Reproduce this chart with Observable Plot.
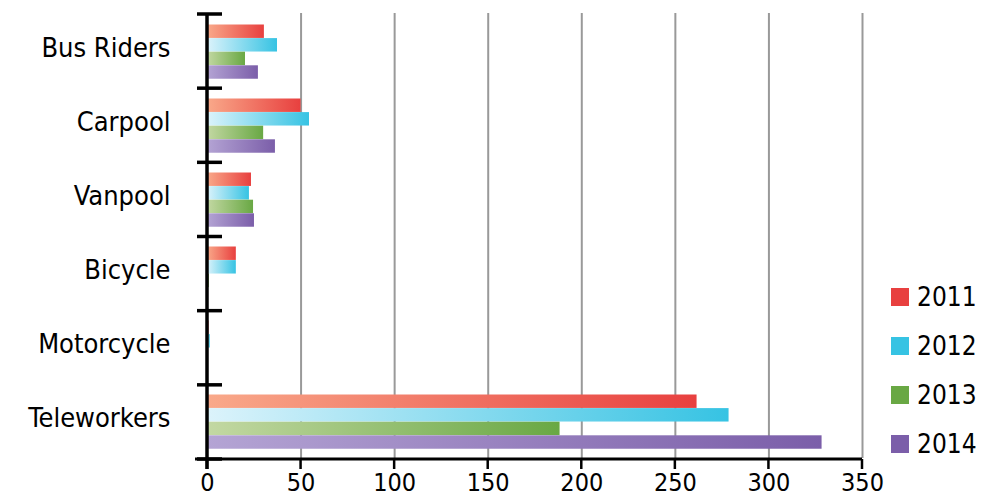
<!DOCTYPE html>
<html>
<head>
<meta charset="UTF-8">
<script src="https://cdn.jsdelivr.net/npm/d3@7"></script>
<script src="https://cdn.jsdelivr.net/npm/@observablehq/plot@0.6"></script>
<style>
  body { margin: 0; background: #fff; font-family: "DejaVu Sans", sans-serif; font-stretch: condensed; }
  #wrap { position: relative; width: 991px; height: 504px; }
  #legend { position: absolute; left: 891px; top: 272px; }
  .item { display: flex; align-items: center; height: 49px; font-size: 26px; }
  .sw { width: 18px; height: 18px; margin-right: 8px; }
</style>
</head>
<body>
<div id="wrap"><div id="chart"></div><div id="legend"></div></div>
<script>
const categories = ["Bus Riders", "Carpool", "Vanpool", "Bicycle", "Motorcycle", "Teleworkers"];
const years = ["2011", "2012", "2013", "2014"];
const v2011 = [30.4, 50, 23.5, 15.4, 0.8, 261.6];
const v2012 = [37.4, 54.5, 22.4, 15.4, 1.5, 278.7];
const v2013 = [20.3, 30, 24.6, 1, 0, 188.4];
const v2014 = [27.2, 36.3, 25.1, 0, 0, 328.4];
const xTicks = [0, 50, 100, 150, 200, 250, 300, 350];
const colors = ["#e8403f", "#36c3e3", "#69a844", "#7b5ea9"];
const lights = ["#f9a98a", "#dcf3fb", "#c3d8a3", "#b4a4d4"];

const series = [v2011, v2012, v2013, v2014];
const band = 445 / categories.length;
const pad = 10.5, h = 13.6;

const barMarks = series.map((vals, i) => Plot.barX(
  categories.map((c, j) => ({cat: c, v: vals[j]})),
  {x: "v", y: "cat", fill: `url(#g${i})`,
   insetTop: pad + i * h, insetBottom: band - pad - (i + 1) * h}
));

const chart = Plot.plot({
  width: 991, height: 504,
  marginLeft: 207, marginRight: 129, marginTop: 13, marginBottom: 46,
  style: {fontFamily: "DejaVu Sans", fontStretch: "condensed", overflow: "visible"},
  x: {domain: [0, 350], axis: null},
  y: {domain: categories, padding: 0, axis: null},
  marks: [
    Plot.ruleX(xTicks.slice(1), {stroke: "#999", strokeWidth: 2}),
    ...barMarks,
    Plot.text(xTicks, {x: d => d, frameAnchor: "bottom", dy: 32, text: d => String(d), fontSize: 25, fill: "#000"}),
    Plot.text(categories, {y: d => d, x: 0, dx: -37, dy: -3, textAnchor: "end", text: d => d, fontSize: 27, fill: "#000"})
  ]
});

const svg = d3.select(chart);
const defs = svg.insert("defs", ":first-child");
colors.forEach((c, i) => {
  const g = defs.append("linearGradient").attr("id", `g${i}`).attr("x1", 0).attr("x2", 1).attr("y1", 0).attr("y2", 0);
  g.append("stop").attr("offset", 0).attr("stop-color", lights[i]);
  g.append("stop").attr("offset", 1).attr("stop-color", c);
});

// axis lines and ticks
const xs = chart.scale("x"), ys = chart.scale("y");
const x0 = xs.apply(0), yTop = ys.apply(categories[0]), yBottom = yTop + band * categories.length;
const ax = svg.append("g").attr("stroke", "#000");
ax.append("line").attr("x1", x0).attr("x2", x0).attr("y1", yTop).attr("y2", yBottom + 10).attr("stroke-width", 3.5);
ax.append("line").attr("x1", x0 - 12).attr("x2", xs.apply(350)).attr("y1", yBottom).attr("y2", yBottom).attr("stroke-width", 3);
d3.range(categories.length + 1).forEach(i => {
  const y = yTop + i * band;
  ax.append("line").attr("x1", x0 - 10).attr("x2", x0 + 15).attr("y1", y).attr("y2", y).attr("stroke-width", 3.5);
});
xTicks.forEach(t => {
  ax.append("line").attr("x1", xs.apply(t)).attr("x2", xs.apply(t)).attr("y1", yBottom).attr("y2", yBottom + 10).attr("stroke-width", 2.5);
});
document.getElementById("chart").appendChild(chart);

const legend = d3.select("#legend");
years.forEach((y, i) => {
  const it = legend.append("div").attr("class", "item");
  it.append("div").attr("class", "sw").style("background", colors[i]);
  it.append("span").text(y);
});
</script>
</body>
</html>
